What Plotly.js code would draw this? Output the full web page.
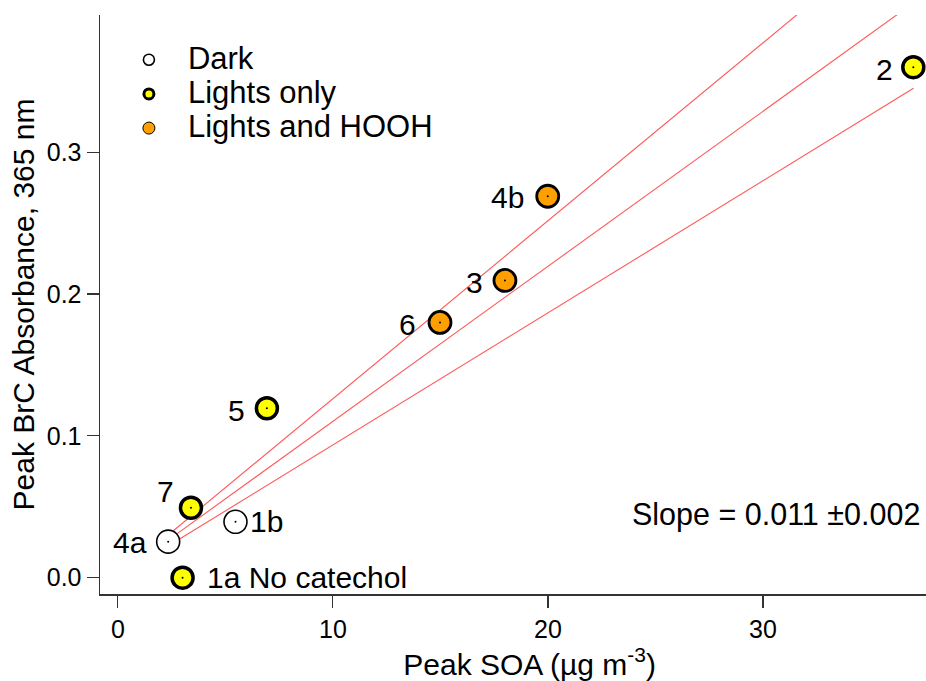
<!DOCTYPE html>
<html><head><meta charset="utf-8">
<script src="https://cdn.plot.ly/plotly-3.0.1.min.js"></script>
<style>body{margin:0;background:#fff}#chart{width:926px;height:681px}</style>
</head><body><div id="chart"></div>
<script>
// ---- data ----
const darkLabels = ['4a', '1b'];
const darkX = [2.34, 5.47];
const darkY = [0.0254, 0.0394];

const lightsLabels = ['2', '5', '7', '1a No catechol'];
const lightsX = [36.99, 6.93, 3.40, 3.01];
const lightsY = [0.360, 0.1195, 0.0493, 0.0];

const hoohLabels = ['4b', '3', '6'];
const hoohX = [19.99, 18.0, 14.98];
const hoohY = [0.269, 0.2096, 0.180];

const fitX = [2.34, 37.0];
const fitMidY = [0.0265, 0.4054];
const fitUpperY = [0.0301, 0.465];
const fitLowerY = [0.0223, 0.3451];

const legendNames = ['Dark', 'Lights only', 'Lights and HOOH'];
const slopeText = 'Slope = 0.011 \u00b10.002';

// ---- styling ----
const FONT = 'Liberation Sans, Arial, Helvetica, sans-serif';
const labelStyle = {
  '4a': {xanchor: 'right', xshift: -19, yshift: -1},
  '1b': {xanchor: 'left', xshift: 13, yshift: 0},
  '2': {xanchor: 'right', xshift: -18, yshift: -2},
  '5': {xanchor: 'right', xshift: -20, yshift: -2},
  '7': {xanchor: 'right', xshift: -15, yshift: 16},
  '1a No catechol': {xanchor: 'left', xshift: 22, yshift: 0},
  '4b': {xanchor: 'right', xshift: -22, yshift: -1},
  '3': {xanchor: 'right', xshift: -20, yshift: -2},
  '6': {xanchor: 'right', xshift: -22, yshift: -2}
};

const red = 'rgba(255,70,70,0.9)';
function fitTrace(y) {
  return {x: fitX, y: y, type: 'scatter', mode: 'lines', showlegend: false,
          hoverinfo: 'skip', line: {color: red, width: 1.1}};
}
function legendName(t) {
  return '<span style="font-size:31px">' + t + '</span>';
}

const traces = [
  fitTrace(fitUpperY), fitTrace(fitMidY), fitTrace(fitLowerY),
  {x: darkX, y: darkY, type: 'scatter', mode: 'markers', showlegend: false,
   marker: {size: 23, color: '#ffffff', line: {color: '#000', width: 1.6}}},
  {x: lightsX, y: lightsY, type: 'scatter', mode: 'markers', showlegend: false,
   marker: {size: 21, color: '#ffff00', line: {color: '#000', width: 3.5}}},
  {x: hoohX, y: hoohY, type: 'scatter', mode: 'markers', showlegend: false,
   marker: {size: 22, color: '#ff9f00', line: {color: '#000', width: 2.8}}},
  {x: darkX.concat(lightsX, hoohX), y: darkY.concat(lightsY, hoohY), type: 'scatter',
   mode: 'markers', showlegend: false, hoverinfo: 'skip',
   marker: {size: 2, color: '#000'}},
  // legend entries
  {x: [null], y: [null], type: 'scatter', mode: 'markers', name: legendName(legendNames[0]),
   marker: {size: 11, color: '#ffffff', line: {color: '#000', width: 1.6}}},
  {x: [null], y: [null], type: 'scatter', mode: 'markers', name: legendName(legendNames[1]),
   marker: {size: 10, color: '#ffff00', line: {color: '#000', width: 3}}},
  {x: [null], y: [null], type: 'scatter', mode: 'markers', name: legendName(legendNames[2]),
   marker: {size: 12, color: '#ff9f00', line: {color: '#000', width: 1}}}
];

const annotations = [];
function addLabels(labels, xs, ys) {
  labels.forEach((t, i) => {
    const s = labelStyle[t];
    annotations.push({x: xs[i], y: ys[i], xref: 'x', yref: 'y', text: t, showarrow: false,
      xanchor: s.xanchor, yanchor: 'middle', xshift: s.xshift, yshift: s.yshift,
      font: {family: FONT, size: 30, color: '#000'}});
  });
}
addLabels(darkLabels, darkX, darkY);
addLabels(lightsLabels, lightsX, lightsY);
addLabels(hoohLabels, hoohX, hoohY);
annotations.push({xref: 'paper', yref: 'paper', x: 0.995, y: 0.137, text: slopeText,
  showarrow: false, xanchor: 'right', yanchor: 'middle',
  font: {family: FONT, size: 30.5, color: '#000'}});

const layout = {
  width: 926, height: 681,
  margin: {l: 100, r: 0, t: 15, b: 87},
  paper_bgcolor: '#fff', plot_bgcolor: '#fff',
  font: {family: FONT, color: '#000'},
  showlegend: true,
  legend: {x: 0.012, y: 0.961, xanchor: 'left', yanchor: 'top', bgcolor: 'rgba(0,0,0,0)',
           itemwidth: 68, font: {family: FONT, size: 24, color: '#000'}},
  xaxis: {range: [-0.83, 37.58], showgrid: false, zeroline: false,
          showline: true, linecolor: '#333', linewidth: 1.5,
          ticks: 'outside', ticklen: 12, tickwidth: 1.2, tickcolor: '#333',
          tickvals: [0, 10, 20, 30], ticktext: ['0', '10', '20', '30'],
          tickfont: {family: FONT, size: 25, color: '#000'},
          title: {text: '\u200b\u00a0\u00a0\u00a0\u00a0Peak SOA (\u00b5g m<sup>-3</sup>)', standoff: 12,
                  font: {family: FONT, size: 30, color: '#000'}}},
  yaxis: {range: [-0.0115, 0.3968], showgrid: false, zeroline: false,
          showline: true, linecolor: '#333', linewidth: 1.5,
          ticks: 'outside', ticklen: 12, tickwidth: 1.2, tickcolor: '#333',
          tickvals: [0, 0.1, 0.2, 0.3], ticktext: ['0.0', '0.1', '0.2', '0.3'],
          tickfont: {family: FONT, size: 25, color: '#000'},
          title: {text: 'Peak BrC Absorbance, 365 nm', standoff: 3,
                  font: {family: FONT, size: 30, color: '#000'}}},
  annotations: annotations
};

Plotly.newPlot('chart', traces, layout, {displayModeBar: false, staticPlot: true});
</script></body></html>
